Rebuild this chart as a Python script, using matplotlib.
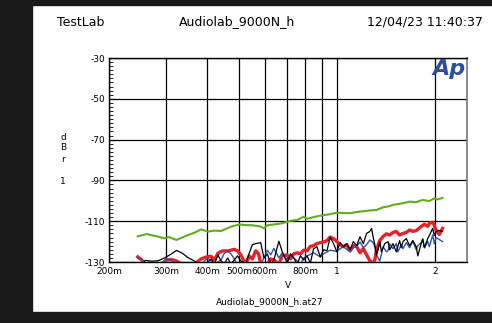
import matplotlib
matplotlib.use("Agg")
import matplotlib.pyplot as plt
from matplotlib.patches import Rectangle
from matplotlib.ticker import FixedLocator, MultipleLocator, NullFormatter

plt.rcParams["font.family"] = ["DejaVu Sans"]
plt.rcParams["axes.unicode_minus"] = False

# sweep data (V, dBr)
green_x = [0.245, 0.261, 0.283, 0.296, 0.304, 0.322, 0.349, 0.366, 0.383, 0.402,
           0.420, 0.441, 0.473, 0.501, 0.525, 0.550, 0.583, 0.597, 0.611, 0.640,
           0.679, 0.720, 0.754, 0.790, 0.809, 0.838, 0.867, 0.909, 0.950, 0.998,
           1.050, 1.096, 1.148, 1.175, 1.250, 1.320, 1.383, 1.450, 1.483, 1.591,
           1.667, 1.747, 1.809, 1.830, 1.917, 1.985, 2.032, 2.104]
green_y = [-117.4, -116.3, -117.6, -118.4, -117.7, -119.2, -116.8, -115.6, -114.0, -115.1,
           -114.6, -114.8, -112.7, -111.6, -111.9, -112.0, -112.6, -113.5, -112.0, -111.6,
           -111.0, -109.8, -109.4, -107.8, -108.8, -108.2, -107.6, -107.0, -106.6, -105.8,
           -106.0, -106.1, -105.5, -105.3, -104.8, -104.5, -103.2, -102.6, -102.0, -101.2,
           -100.4, -100.7, -99.8, -99.6, -100.1, -98.8, -99.3, -98.6]

black_x = [0.245, 0.255, 0.258, 0.270, 0.283, 0.296, 0.311, 0.322, 0.334, 0.349,
           0.366, 0.383, 0.402, 0.411, 0.421, 0.431, 0.441, 0.451, 0.462, 0.473,
           0.495, 0.507, 0.525, 0.537, 0.550, 0.563, 0.583, 0.597, 0.611, 0.626,
           0.640, 0.663, 0.679, 0.703, 0.720, 0.736, 0.754, 0.772, 0.790, 0.809,
           0.828, 0.847, 0.867, 0.888, 0.909, 0.931, 0.952, 0.975, 0.998, 1.021,
           1.045, 1.070, 1.096, 1.121, 1.148, 1.175, 1.203, 1.231, 1.260, 1.275,
           1.290, 1.305, 1.320, 1.335, 1.351, 1.367, 1.383, 1.399, 1.432, 1.449,
           1.483, 1.518, 1.554, 1.572, 1.591, 1.629, 1.667, 1.706, 1.747, 1.767,
           1.809, 1.830, 1.851, 1.895, 1.917, 1.962, 1.985, 2.009, 2.056, 2.104]
black_y = [-131.0, -130.5, -129.2, -129.6, -129.4, -128.0, -126.0, -124.3, -125.5, -127.8,
           -129.6, -131.5, -130.0, -128.5, -131.0, -126.5, -129.5, -131.0, -128.0, -131.0,
           -127.0, -129.5, -131.0, -126.0, -121.5, -121.0, -120.5, -128.0, -126.0, -131.0,
           -129.0, -119.8, -125.0, -130.5, -126.0, -128.0, -131.0, -127.0, -129.0, -127.0,
           -130.5, -123.5, -122.5, -127.5, -124.0, -124.5, -117.8, -121.0, -125.0, -120.5,
           -122.5, -121.0, -124.0, -120.0, -122.0, -117.6, -121.0, -116.0, -115.0, -113.5,
           -118.0, -121.5, -126.5, -124.0, -120.0, -125.0, -123.0, -121.0, -120.0, -124.0,
           -121.0, -125.0, -119.5, -123.0, -120.0, -118.5, -122.0, -119.5, -122.5, -127.0,
           -121.0, -119.0, -123.0, -118.5, -117.0, -113.5, -117.0, -115.0, -114.5, -115.0]

red_x = [0.245, 0.252, 0.258, 0.290, 0.300, 0.311, 0.322, 0.334, 0.366, 0.383,
         0.398, 0.411, 0.421, 0.431, 0.441, 0.451, 0.462, 0.473, 0.484, 0.495,
         0.507, 0.518, 0.525, 0.537, 0.550, 0.563, 0.575, 0.583, 0.611, 0.626,
         0.640, 0.663, 0.679, 0.703, 0.720, 0.736, 0.754, 0.772, 0.790, 0.809,
         0.828, 0.847, 0.867, 0.888, 0.909, 0.931, 0.952, 0.975, 0.998, 1.021,
         1.045, 1.070, 1.096, 1.121, 1.148, 1.175, 1.203, 1.231, 1.260, 1.290,
         1.305, 1.320, 1.351, 1.383, 1.416, 1.449, 1.483, 1.518, 1.554, 1.591,
         1.629, 1.667, 1.706, 1.747, 1.767, 1.809, 1.851, 1.895, 1.917, 1.962,
         1.985, 2.009, 2.056, 2.104]
red_y = [-127.5, -129.0, -131.0, -131.0, -129.0, -128.8, -129.5, -131.0, -131.0, -128.5,
         -127.5, -127.2, -129.0, -125.8, -124.8, -124.5, -124.6, -124.2, -123.8, -124.5,
         -126.5, -129.5, -131.0, -127.0, -128.5, -124.5, -126.0, -131.0, -131.0, -128.5,
         -129.0, -131.0, -127.0, -126.5, -128.5, -126.0, -125.5, -126.0, -124.2, -124.5,
         -122.3, -122.0, -121.0, -120.5, -120.2, -119.5, -117.8, -118.5, -120.0, -121.5,
         -122.5, -121.5, -124.5, -122.0, -122.5, -125.5, -123.5, -126.5, -129.5, -130.5,
         -129.0, -124.0, -119.5, -117.5, -116.2, -116.8, -115.5, -115.0, -116.8, -116.0,
         -115.5, -114.3, -115.0, -114.6, -114.0, -112.6, -111.5, -112.5, -111.0, -110.5,
         -112.0, -114.5, -116.5, -113.5]

blue_x = [0.245, 0.252, 0.258, 0.290, 0.300, 0.311, 0.322, 0.383, 0.395, 0.402,
          0.411, 0.421, 0.441, 0.451, 0.462, 0.473, 0.484, 0.495, 0.583, 0.597,
          0.611, 0.626, 0.640, 0.663, 0.679, 0.703, 0.720, 0.754, 0.772, 0.790,
          0.809, 0.847, 0.888, 0.909, 0.952, 0.998, 1.021, 1.045, 1.070, 1.096,
          1.121, 1.148, 1.175, 1.203, 1.231, 1.260, 1.290, 1.305, 1.320, 1.351,
          1.367, 1.383, 1.416, 1.432, 1.449, 1.483, 1.518, 1.536, 1.572, 1.591,
          1.629, 1.667, 1.706, 1.747, 1.767, 1.809, 1.830, 1.851, 1.895, 1.917,
          1.962, 1.985, 2.009, 2.056, 2.104]
blue_y = [-127.7, -128.8, -131.0, -131.0, -128.2, -129.5, -131.0, -131.0, -129.0, -128.2,
          -129.5, -131.0, -129.0, -125.8, -124.8, -126.0, -128.5, -131.0, -131.0, -128.0,
          -124.2, -126.5, -123.3, -128.0, -125.5, -129.0, -126.5, -129.5, -131.0, -128.0,
          -127.0, -125.5, -127.5, -126.0, -124.2, -124.8, -123.5, -122.5, -123.8, -125.0,
          -123.0, -122.5, -120.2, -123.0, -121.5, -119.2, -120.5, -122.8, -126.5, -129.5,
          -126.0, -122.5, -125.0, -124.5, -121.0, -123.5, -121.0, -125.0, -121.5, -123.5,
          -120.5, -123.0, -119.8, -124.0, -122.0, -120.5, -118.5, -123.0, -120.0, -122.5,
          -116.8, -121.0, -118.0, -119.0, -120.0]

x_ticks = [0.2, 0.3, 0.4, 0.5, 0.6, 0.7, 0.8, 0.9, 1, 2]
x_labels = ["200m", "300m", "400m", "500m", "600m", "", "800m", "", "1", "2"]
y_ticks = [-30, -50, -70, -90, -110, -130]

W, H = 492, 323
fig = plt.figure(figsize=(W / 100, H / 100), dpi=100)

# black frame around the printout
for x0, y0, w, h in [(0, 0, 32, H), (0, 0, W, 11), (0, H - 5, W, 5)]:
    fig.patches.append(Rectangle((x0 / W, y0 / H), w / W, h / H,
                                 transform=fig.transFigure, color="#1a1a1a", zorder=0))

ax = fig.add_axes([109 / W, 61 / H, 358 / W, 204 / H])
ax.set_xscale("log")
ax.set_xlim(0.2, 2.5)
ax.set_ylim(-130, -30)

ax.plot(green_x, green_y, color="#62ad1e", lw=1.5, zorder=3)
ax.plot(red_x, red_y, color="#e8202a", lw=2.4, zorder=4)
ax.plot(blue_x, blue_y, color="#2c55a8", lw=1.0, zorder=5)
ax.plot(black_x, black_y, color="black", lw=0.9, zorder=6)

ax.xaxis.set_major_locator(FixedLocator(x_ticks))
ax.xaxis.set_minor_formatter(NullFormatter())
ax.xaxis.set_minor_locator(FixedLocator([]))
ax.set_xticklabels(x_labels)
ax.tick_params(axis="x", length=0, pad=3.5, labelsize=6.5)

ax.set_yticks(y_ticks)
ax.yaxis.set_minor_locator(MultipleLocator(2))
ax.tick_params(axis="y", which="major", direction="in", length=4, width=0.8, labelsize=6.5, pad=3)
ax.tick_params(axis="y", which="minor", direction="in", length=3, width=0.6)

ax.grid(True, which="major", color="black", lw=0.9)
ax.set_axisbelow(True)
for s in ["left", "bottom", "top"]:
    ax.spines[s].set_linewidth(1.0)
ax.spines["right"].set_color("#777777")
ax.spines["right"].set_linewidth(1.2)

# header line
fig.text(57 / W, 1 - 22 / H, "TestLab", fontsize=9, va="center", ha="left")
fig.text(237 / W, 1 - 22 / H, "Audiolab_9000N_h", fontsize=9, va="center", ha="center")
fig.text(483 / W, 1 - 22 / H, "12/04/23 11:40:37", fontsize=9, va="center", ha="right")

# stacked y unit label
for ch, yy in [("d", 137), ("B", 148), ("r", 160), ("1", 182)]:
    fig.text(63 / W, 1 - yy / H, ch, fontsize=6.5, ha="center", va="center")

fig.text(288 / W, 1 - 286 / H, "V", fontsize=6.5, ha="center", va="center")
fig.text(270 / W, 1 - 302 / H, "Audiolab_9000N_h.at27", fontsize=6.5, ha="center", va="center")

# Ap logo
ax.text(0.995, 0.995, "Ap", transform=ax.transAxes, fontsize=16, fontweight="bold",
        fontstyle="italic", color="#2a4f9f", ha="right", va="top", zorder=7)

fig.savefig("out.png", dpi=100)
